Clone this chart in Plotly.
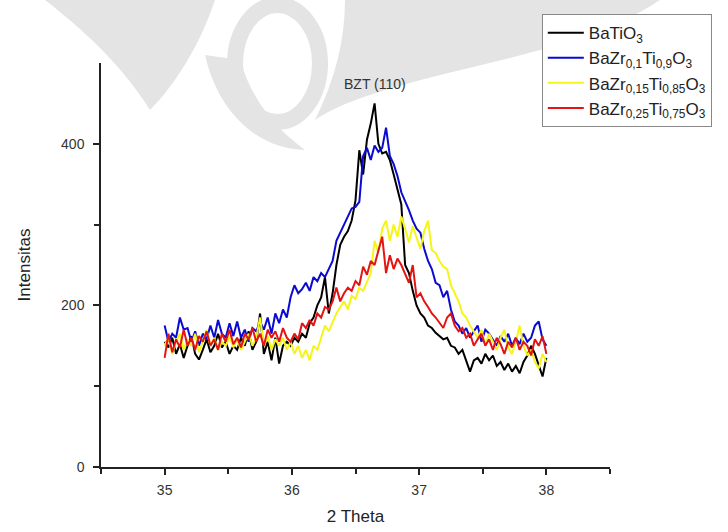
import plotly.graph_objects as go

two_theta = [round(35 + 0.03 * i, 2) for i in range(101)]

batio3 = [155, 148, 160, 140, 152, 135, 150, 162, 140, 133,
          145, 158, 142, 150, 165, 148, 155, 140, 150, 145,
          160, 150, 168, 145, 155, 190, 140, 155, 132, 160,
          128, 150, 155, 150, 160, 155, 165, 160, 178, 185,
          200, 210, 235, 190, 215, 250, 275, 285, 292, 305,
          330, 392, 362, 405, 425, 450, 400, 388, 390, 380,
          362, 345, 325, 250, 240, 218, 200, 190, 185, 175,
          172, 166, 162, 158, 160, 150, 148, 140, 145, 130,
          118, 132, 135, 128, 140, 132, 138, 125, 130, 120,
          128, 118, 125, 116, 130, 138, 150, 140, 125, 112,
          135]

bzt_010 = [175, 155, 165, 160, 185, 170, 172, 155, 168, 150,
           165, 158, 175, 160, 182, 165, 160, 178, 162, 180,
           160, 170, 155, 172, 168, 180, 170, 185, 165, 190,
           178, 195, 185, 210, 225, 215, 220, 228, 218, 235,
           230, 240, 235, 245, 255, 280, 290, 300, 312, 320,
           322, 328, 385, 395, 380, 398, 390, 395, 420, 385,
           375, 360, 340, 330, 318, 305, 295, 290, 270, 255,
           245, 228, 225, 210, 218, 195, 180, 175, 165, 172,
           160, 168, 175, 155, 170, 165, 158, 150, 162, 155,
           165, 150, 160, 152, 165, 155, 160, 175, 180, 158,
           150]

bzt_015 = [150, 160, 140, 155, 165, 145, 158, 150, 165, 142,
           155, 170, 150, 160, 145, 155, 150, 162, 148, 158,
           145, 155, 165, 150, 160, 185, 150, 162, 145, 158,
           150, 160, 145, 155, 140, 150, 135, 145, 132, 150,
           145, 160, 175, 168, 180, 190, 198, 205, 195, 212,
           208, 222, 218, 230, 240, 280, 265, 295, 305, 280,
           300, 285, 310, 295, 278, 298, 285, 270, 292, 305,
           268, 265, 255, 248, 245, 225, 215, 205, 190, 185,
           175, 168, 160, 170, 150, 165, 155, 145, 160, 170,
           148, 140, 155, 175, 150, 138, 145, 130, 122, 140,
           130]

bzt_025 = [135, 165, 142, 158, 148, 170, 150, 160, 145, 162,
           155, 168, 150, 158, 145, 165, 155, 170, 152, 160,
           148, 165, 158, 172, 155, 165, 150, 170, 160, 168,
           155, 172, 160, 155, 165, 158, 178, 172, 182, 175,
           190, 185, 198, 195, 205, 222, 205, 215, 222, 218,
           230, 225, 248, 238, 255, 250, 268, 285, 240, 262,
           245, 258, 250, 240, 228, 250, 210, 215, 205, 198,
           190, 185, 178, 172, 185, 190, 175, 168, 172, 160,
           165, 150, 158, 165, 150, 158, 145, 160, 152, 140,
           155, 148, 160, 145, 155, 150, 138, 158, 150, 162,
           140]

series_names = [
    "BaTiO<sub>3</sub>",
    "BaZr<sub>0,1</sub>Ti<sub>0,9</sub>O<sub>3</sub>",
    "BaZr<sub>0,15</sub>Ti<sub>0,85</sub>O<sub>3</sub>",
    "BaZr<sub>0,25</sub>Ti<sub>0,75</sub>O<sub>3</sub>",
]
series_values = [batio3, bzt_010, bzt_015, bzt_025]
series_colors = ["#000000", "#0a0ad0", "#f5f51a", "#e41414"]

x_ticks = [35, 36, 37, 38]
y_ticks = [0, 200, 400]
peak_label = "BZT (110)"
peak_pos = (36.65, 474)

FONT = "Liberation Sans, Arial, sans-serif"

# plot area in pixels (for the faint background watermark only)
L, R, T, B = 101, 610, 63, 467


def px_path(pts_cmds):
    out = []
    for cmd, pts in pts_cmds:
        coords = " ".join(f"{(x - L) / (R - L):.4f},{(B - y) / (B - T):.4f}" for x, y in pts)
        out.append(f"{cmd} {coords}" if pts else cmd)
    return " ".join(out)


WM = "#e4e4e4"
watermark = [
    # left wing
    [("M", [(45, 0)]), ("L", [(215, 0)]), ("C", [(200, 45), (175, 85), (150, 110)]),
     ("C", [(125, 70), (90, 35), (45, 0)]), ("Z", [])],
    # right wing
    [("M", [(345, 0)]), ("L", [(660, 0)]), ("C", [(600, 40), (520, 55), (440, 75)]),
     ("C", [(390, 88), (345, 100), (315, 120)]), ("C", [(335, 80), (345, 40), (345, 0)]),
     ("Z", [])],
    # lower crescent under the ring
    [("M", [(205, 55)]), ("C", [(220, 120), (265, 150), (305, 150)]),
     ("C", [(285, 135), (255, 110), (240, 60)]), ("Z", [])],
]

fig = go.Figure()
for name, vals, col in zip(series_names, series_values, series_colors):
    fig.add_trace(go.Scatter(x=two_theta, y=vals, mode="lines", name=name,
                             line=dict(color=col, width=2)))

for p in watermark:
    fig.add_shape(type="path", path=px_path(p), xref="paper", yref="paper",
                  fillcolor=WM, line=dict(width=0), layer="below")
# central ring
fig.add_shape(type="circle", xref="paper", yref="paper", layer="below",
              x0=(235 - L) / (R - L), x1=(320 - L) / (R - L),
              y0=(B - 122) / (B - T), y1=(B - 5) / (B - T),
              line=dict(color=WM, width=16), fillcolor="rgba(0,0,0,0)")

fig.add_annotation(x=peak_pos[0], y=peak_pos[1], text=peak_label, showarrow=False,
                   font=dict(family=FONT, size=14, color="#333333"))

fig.update_layout(
    width=728, height=532,
    margin=dict(l=101, r=118, t=63, b=65),
    paper_bgcolor="white", plot_bgcolor="rgba(0,0,0,0)",
    font=dict(family=FONT, color="#333333"),
    showlegend=True,
    legend=dict(x=0.866, y=1.121, xanchor="left", yanchor="top",
                bgcolor="white", bordercolor="#888888", borderwidth=1,
                font=dict(family=FONT, size=17, color="#222222"),
                tracegroupgap=0, itemwidth=36),
    xaxis=dict(range=[34.5, 38.5], tickvals=x_ticks, ticks="outside", ticklen=6,
               tickwidth=1.5, tickcolor="#222222", showline=True, linecolor="#222222",
               linewidth=1.5, showgrid=False, zeroline=False, ticklabelstandoff=3,
               automargin=False,
               tickfont=dict(family=FONT, size=14, color="#333333"),
               title=dict(text="2 Theta", font=dict(family=FONT, size=17, color="#222222"),
                          standoff=14),
               minor=dict(tickvals=[34.5, 35.5, 36.5, 37.5, 38.5], ticks="outside",
                          ticklen=5, tickwidth=1.5, tickcolor="#222222")),
    yaxis=dict(range=[0, 500], tickvals=y_ticks, ticks="outside", ticklen=6,
               tickwidth=1.5, tickcolor="#222222", showline=True, linecolor="#222222",
               linewidth=1.5, showgrid=False, zeroline=False, ticklabelstandoff=6,
               automargin=False,
               tickfont=dict(family=FONT, size=14, color="#333333"),
               title=dict(text="Intensitas", font=dict(family=FONT, size=17, color="#222222"),
                          standoff=26),
               minor=dict(tickvals=[100, 300], ticks="outside", ticklen=5,
                          tickwidth=1.5, tickcolor="#222222")),
)

fig.write_html("out.html")
